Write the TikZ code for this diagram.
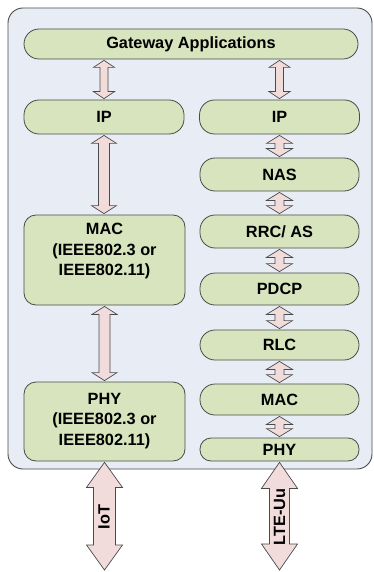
\documentclass[tikz,border=0pt]{standalone}
\usepackage{fontspec}
\setmainfont{Liberation Sans}
\usetikzlibrary{calc}
\definecolor{outerfill}{HTML}{E8EDF5}
\definecolor{boxgreen}{HTML}{D7E4BD}
\definecolor{arrpink}{HTML}{F2DCDB}
\definecolor{linegray}{HTML}{4A4A4A}
\tikzset{
  layer/.style={draw=linegray, fill=boxgreen, line width=0.8pt, inner sep=0pt,
    font=\fontsize{16.3}{20}\selectfont\bfseries, align=center},
  capsule/.style={layer, rounded corners=15pt},
  bigbox/.style={layer, rounded corners=12pt},
  lbl/.style={font=\fontsize{16.3}{20.5}\selectfont\bfseries, align=center, inner sep=0pt},
  arrsty/.style={draw=linegray, fill=arrpink, line width=0.7pt, line join=miter}
}
\newcommand\dblarr[5]{%
  \draw[arrsty] let \p1=(#1), \p2=(#2) in
    (\x1,\y1) -- (\x1+#4,\y1-#5) -- (\x1+#3,\y1-#5) -- (\x1+#3,\y2+#5) --
    (\x1+#4,\y2+#5) -- (\x1,\y2) -- (\x1-#4,\y2+#5) -- (\x1-#3,\y2+#5) --
    (\x1-#3,\y1-#5) -- (\x1-#4,\y1-#5) -- cycle;}
\begin{document}
\begin{tikzpicture}[x=1pt,y=-1pt]
\useasboundingbox (0,0) rectangle (373,572);
\draw[draw=linegray, fill=outerfill, line width=0.9pt, rounded corners=15pt] (8,8) rectangle (372,469);

\node[capsule, minimum width=334pt, minimum height=30pt] (gw) at (191,44) {Gateway Applications};
\node[capsule, minimum width=160pt, minimum height=34pt] (lip) at (104,117) {IP};
\node[capsule, minimum width=160pt, minimum height=34pt] (rip) at (279.5,117) {IP};
\node[capsule, minimum width=159pt, minimum height=33pt] (nas) at (279.5,174.5) {NAS};
\node[capsule, minimum width=159pt, minimum height=33pt] (rrc) at (279.5,231.5) {RRC/ AS};
\node[capsule, minimum width=159pt, minimum height=32pt] (pdcp) at (279.5,289) {PDCP};
\node[capsule, minimum width=159pt, minimum height=30pt] (rlc) at (279.5,345) {RLC};
\node[capsule, minimum width=159pt, minimum height=31pt] (rmac) at (279.5,399.5) {MAC};
\node[capsule, minimum width=159pt, minimum height=23pt, rounded corners=11pt] (rphy) at (279.5,449.5) {PHY};
\node[bigbox, minimum width=161pt, minimum height=90pt] (lmac) at (104.5,260) {};
\node[lbl] (lmact) at (104.5,251) {MAC\\(IEEE802.3 or\\IEEE802.11)};
\node[bigbox, minimum width=161pt, minimum height=79pt] (lphy) at (104.5,421.5) {};
\node[lbl] (lphyt) at (104.5,421) {PHY\\(IEEE802.3 or\\IEEE802.11)};

\coordinate (iotend) at (104,570);
\coordinate (lteend) at (279.5,570);

\dblarr{$(gw.south -| lip.center)+(0,1)$}{$(lip.north)+(0,-1)$}{4pt}{10.5pt}{7pt}
\dblarr{$(gw.south -| rip.center)+(0,1)$}{$(rip.north)+(0,-1)$}{4pt}{10.5pt}{7pt}
\dblarr{$(lip.south)+(0,1)$}{$(lmac.north)+(0,-1)$}{5.5pt}{12.5pt}{8pt}
\dblarr{$(lmac.south)+(0,1)$}{$(lphy.north)+(0,-1)$}{5.5pt}{12.5pt}{8pt}
\dblarr{$(rip.south)+(0,1)$}{$(nas.north)+(0,-1)$}{4.5pt}{13pt}{8pt}
\dblarr{$(nas.south)+(0,1)$}{$(rrc.north)+(0,-1)$}{4.5pt}{13pt}{8pt}
\dblarr{$(rrc.south)+(0,1)$}{$(pdcp.north)+(0,-1)$}{4.5pt}{13pt}{8pt}
\dblarr{$(pdcp.south)+(0,1)$}{$(rlc.north)+(0,-1)$}{4.5pt}{13pt}{8pt}
\dblarr{$(rlc.south)+(0,1)$}{$(rmac.north)+(0,-1)$}{4.5pt}{13pt}{8pt}
\dblarr{$(rmac.south)+(0,1)$}{$(rphy.north)+(0,-1)$}{4.5pt}{13pt}{8pt}
\dblarr{$(lphy.south)+(0,1)$}{iotend}{11pt}{18pt}{25pt}
\dblarr{$(rphy.south)+(0,1)$}{lteend}{10pt}{18pt}{26pt}

\node[lbl, rotate=90] (iot) at (104,517) {IoT};
\node[lbl, rotate=90] (lte) at (279.5,517) {LTE-Uu};
\end{tikzpicture}
\end{document}
